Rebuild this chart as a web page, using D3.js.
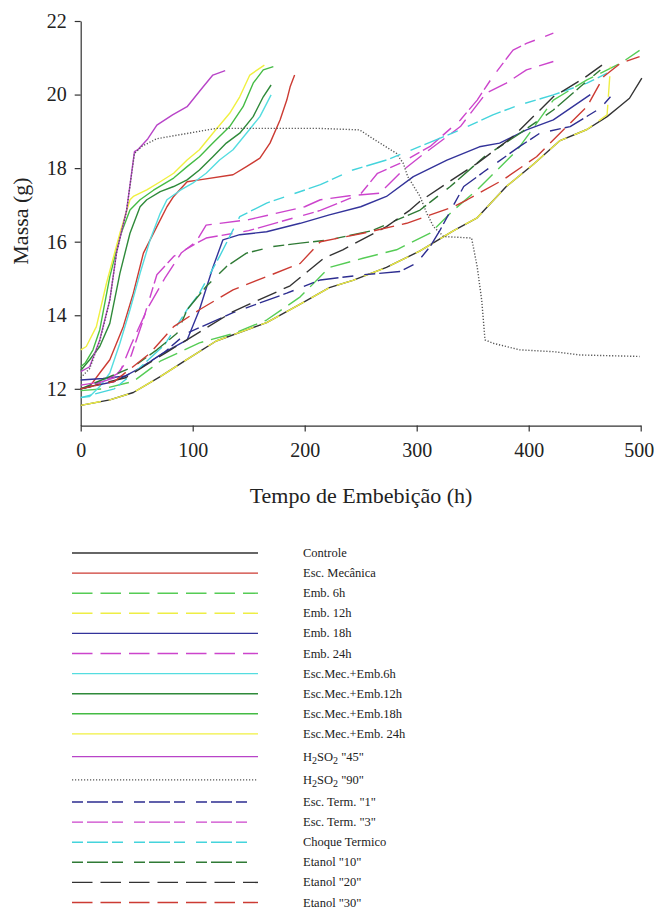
<!DOCTYPE html>
<html><head><meta charset="utf-8">
<script src="https://cdnjs.cloudflare.com/ajax/libs/d3/7.8.5/d3.min.js"></script>
<style>
html,body{margin:0;padding:0;background:#fff;}
svg{display:block;font-family:"Liberation Serif","Times New Roman",serif;}
</style></head>
<body><svg id="c" width="654" height="913"></svg>
<script>
// ---- data (time h, mass g) ----
const controle   = [[0,11.55],[26,11.7],[47,11.9],[71,12.33],[95,12.8],[121,13.3],[166,13.8],[196,14.3],[222,14.75],[243,14.95],[273,15.3],[303,15.75],[333,16.3],[354,16.65],[380,17.5],[404,18.1],[428,18.75],[452,19.05],[470,19.4],[480,19.65],[490,19.9],[501,20.45]];
const escMecanica= [[0,12.0],[8,12.06],[17,12.43],[26,12.79],[38,13.69],[47,14.6],[56,15.69],[68,16.41],[77,16.95],[83,17.23],[95,17.63],[106,17.68],[136,17.82],[148,18.04],[160,18.27],[169,18.68],[178,19.31],[184,19.85],[187,20.21],[191,20.53]];
const emb6h      = [[0,11.95],[20,12.0],[47,12.2],[71,12.75],[106,13.25],[136,13.5],[166,13.87],[196,14.5],[222,15.3],[252,15.55],[282,15.78],[312,16.23],[333,16.86],[354,17.41],[390,18.5],[422,19.85],[452,20.4],[482,20.85],[499,21.2]];
const emb12h     = [[0,11.55],[26,11.7],[47,11.9],[71,12.33],[95,12.8],[121,13.3],[166,13.8],[196,14.3],[222,14.75],[243,14.95],[273,15.3],[303,15.75],[333,16.3],[354,16.65],[380,17.5],[404,18.1],[428,18.75],[452,19.05],[470,19.45],[473,20.76]];
const emb18h     = [[0,12.24],[20,12.28],[40,12.35],[55,12.6],[75,13.0],[95,13.33],[106,14.15],[118,15.3],[127,16.05],[142,16.19],[166,16.27],[196,16.5],[222,16.73],[250,16.95],[273,17.23],[297,17.77],[327,18.22],[356,18.58],[374,18.68],[398,19.04],[422,19.31],[455,20.0]];
const emb24h     = [[0,12.1],[20,12.2],[35,12.45],[45,13.2],[60,14.2],[75,15.0],[90,15.7],[103,16.0],[112,16.45],[150,16.6],[200,16.95],[214,17.14],[240,17.25],[267,17.32],[288,17.95],[303,18.31],[339,19.13],[362,20.04],[380,20.31],[398,20.67],[422,20.9]];
const escMec6h   = [[0,11.76],[8,11.79],[17,12.06],[26,12.43],[35,13.24],[44,14.15],[53,15.14],[62,16.05],[71,16.77],[77,17.14],[89,17.4],[100,17.59],[112,17.86],[124,18.22],[136,18.5],[148,18.95],[160,19.4],[170,19.99]];
const escMec12h  = [[0,12.5],[8,12.79],[17,13.15],[26,13.78],[35,15.14],[44,16.23],[53,16.95],[59,17.14],[71,17.36],[83,17.5],[95,17.68],[106,17.95],[118,18.31],[130,18.68],[142,18.95],[154,19.4],[163,19.94],[170,20.26]];
const escMec18h  = [[0,12.6],[4,12.7],[11,13.06],[17,13.6],[26,15.05],[35,16.14],[44,16.86],[53,17.14],[65,17.4],[83,17.73],[95,18.04],[106,18.31],[118,18.68],[133,19.13],[145,19.67],[154,20.31],[163,20.67],[172,20.76]];
const escMec24h  = [[0,13.06],[5,13.15],[14,13.69],[23,14.87],[35,16.23],[44,17.14],[47,17.23],[59,17.41],[71,17.63],[83,17.86],[95,18.22],[106,18.5],[118,18.95],[133,19.49],[142,19.94],[151,20.53],[164,20.8]];
const h2so2_45   = [[0,12.47],[8,12.6],[17,13.33],[26,14.42],[32,15.7],[41,16.86],[48,18.45],[51,18.5],[60,18.8],[68,19.17],[82,19.45],[95,19.67],[109,20.2],[118,20.53],[129,20.65]];
const h2so2_90   = [[0,12.3],[8,12.55],[17,13.3],[26,14.4],[32,15.7],[41,16.85],[48,18.4],[55,18.6],[68,18.8],[121,19.08],[213,19.08],[249,19.04],[261,18.8],[282,18.4],[288,18.13],[292,17.77],[303,17.23],[309,16.77],[315,16.41],[324,16.14],[349,16.1],[354,15.32],[358,14.42],[361,13.33],[368,13.24],[392,13.06],[422,13.01],[446,12.92],[499,12.88]];
const escTerm1   = [[0,12.0],[30,12.2],[50,12.5],[75,13.0],[94,13.5],[136,14.07],[184,14.6],[214,14.96],[252,15.1],[285,15.19],[300,15.42],[312,15.87],[321,16.32],[333,17.0],[342,17.5],[360,17.9],[392,18.59],[410,18.95],[437,19.13],[464,19.63],[473,19.94]];
const escTerm3   = [[0,12.0],[30,12.3],[45,12.9],[55,13.8],[68,15.1],[83,15.6],[103,15.95],[112,16.1],[150,16.3],[214,16.85],[250,17.3],[265,17.86],[285,18.13],[312,18.59],[339,19.31],[354,19.85],[368,20.49],[386,21.21],[398,21.39],[422,21.67]];
const choque     = [[0,11.76],[30,12.0],[50,12.5],[75,13.2],[95,14.15],[106,14.6],[124,15.6],[142,16.68],[166,17.05],[190,17.3],[214,17.55],[243,17.95],[273,18.22],[303,18.59],[339,19.04],[368,19.45],[392,19.72],[422,19.99],[452,20.31],[470,20.58]];
const etanol10   = [[0,12.0],[47,12.6],[68,13.06],[86,13.51],[95,14.15],[112,14.78],[130,15.32],[148,15.69],[172,15.87],[196,15.96],[222,16.05],[260,16.3],[303,16.86],[330,17.5],[360,18.3],[390,18.9],[422,19.58],[446,20.21],[464,20.67]];
const etanol20   = [[0,12.0],[40,12.3],[77,13.0],[136,14.1],[187,14.8],[217,15.55],[234,15.78],[273,16.41],[294,16.86],[303,17.1],[327,17.59],[354,18.13],[386,18.86],[422,19.94],[449,20.44],[470,20.9]];
const etanol30   = [[0,12.0],[30,12.2],[62,12.97],[83,13.69],[106,14.15],[136,14.69],[166,15.05],[196,15.41],[214,16.0],[252,16.23],[291,16.5],[333,16.95],[345,17.14],[377,17.68],[407,18.31],[434,19.13],[452,19.67],[467,20.49],[482,20.85],[499,21.03]];

const seriesNames = ["Controle","Esc. Mecânica","Emb. 6h","Emb. 12h","Emb. 18h","Emb. 24h","Esc.Mec.+Emb.6h","Esc.Mec.+Emb.12h","Esc.Mec.+Emb.18h","Esc.Mec.+Emb. 24h","H2SO2 \"45\"","H2SO2 \"90\"","Esc. Term. \"1\"","Esc. Term. \"3\"","Choque Termico","Etanol \"10\"","Etanol \"20\"","Etanol \"30\""];
const seriesData = [controle,escMecanica,emb6h,emb12h,emb18h,emb24h,escMec6h,escMec12h,escMec18h,escMec24h,h2so2_45,h2so2_90,escTerm1,escTerm3,choque,etanol10,etanol20,etanol30];
const xTicks = [0,100,200,300,400,500];
const yTicks = [12,14,16,18,20,22];

// ---- styles ----
const DASH = "20.5,8", PAT = "11,4,21,4,11,11", DOT = "1.2,1.8";
const styles = [
  {c:"#333333",d:null},{c:"#cc3b33",d:null},{c:"#55cc55",d:DASH},{c:"#eeee44",d:DASH},
  {c:"#33339a",d:null},{c:"#cc44cc",d:DASH},{c:"#55dde0",d:null},{c:"#2f8a3a",d:null},
  {c:"#44bb44",d:null},{c:"#f0f040",d:null},{c:"#b844c8",d:null},{c:"#555555",d:DOT},
  {c:"#2d2d90",d:PAT},{c:"#cc44cc",d:PAT},{c:"#44d4dc",d:PAT},{c:"#2f7a35",d:PAT},
  {c:"#333333",d:DASH},{c:"#cc3b33",d:DASH}
];

const svg = d3.select("#c");
const x = d3.scaleLinear().domain([0,500]).range([80.7,640.7]);
const y = d3.scaleLinear().domain([11,22]).range([425.6,21]);

// axes
const xAxis = svg.append("g").attr("transform","translate(0,425.6)")
  .call(d3.axisBottom(x).tickValues(xTicks).tickSize(6).tickPadding(11).tickSizeOuter(0));
const yAxis = svg.append("g").attr("transform","translate(80.7,0)")
  .call(d3.axisLeft(y).tickValues(yTicks).tickSize(6).tickPadding(8).tickSizeOuter(0));
[xAxis,yAxis].forEach(a=>{
  a.selectAll("path,line").attr("stroke","#333").attr("stroke-width",1.2);
  a.selectAll("text").attr("font-family","'Liberation Serif', 'Times New Roman', serif").attr("font-size",20).attr("fill","#222");
});
// keep the last x label inside the page
xAxis.selectAll(".tick").filter(d=>d===500).select("text").attr("text-anchor","end").attr("dx",13);

svg.append("text").attr("x",361).attr("y",503).attr("text-anchor","middle")
  .attr("font-size",22).attr("fill","#222").text("Tempo de Embebição (h)");
svg.append("text").attr("transform","translate(28,221) rotate(-90)").attr("text-anchor","middle")
  .attr("font-size",22).attr("fill","#222").text("Massa (g)");

// lines
const line = d3.line().x(d=>x(d[0])).y(d=>y(d[1]));
const plot = svg.append("g");
seriesData.forEach((s,i)=>{
  plot.append("path").attr("d",line(s)).attr("fill","none")
    .attr("stroke",styles[i].c).attr("stroke-width",1.4)
    .attr("stroke-dasharray",styles[i].d).attr("stroke-linejoin","round");
});

// legend
const leg = svg.append("g");
let ly = 553;
seriesNames.forEach((name,i)=>{
  if(i===10) ly += 2.6;
  if(i===11) ly += 3.2;
  if(i===12) ly += 2.0;
  const st = styles[i];
  const x2 = st.d===PAT ? 247 : 258;
  leg.append("line").attr("x1",72).attr("x2",x2).attr("y1",ly).attr("y2",ly)
    .attr("stroke",st.c).attr("stroke-width",1.4).attr("stroke-dasharray",st.d);
  const t = leg.append("text").attr("x",303).attr("y",ly+4).attr("font-size",12.5).attr("fill","#222");
  if(name.startsWith("H2SO2")){
    t.append("tspan").text("H");
    t.append("tspan").attr("font-size",10).attr("dy",3.5).text("2");
    t.append("tspan").attr("dy",-3.5).text("SO");
    t.append("tspan").attr("font-size",10).attr("dy",3.5).text("2");
    t.append("tspan").attr("dy",-3.5).text(name.slice(5));
  } else t.text(name);
  ly += 20.1;
});
</script></body></html>
